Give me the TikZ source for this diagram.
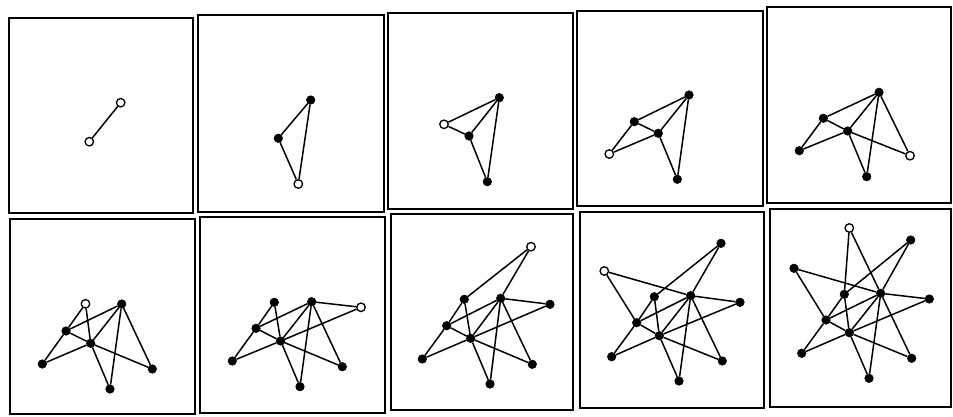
\documentclass[tikz,border=0pt]{standalone}
\usetikzlibrary{backgrounds}
\tikzset{
  dot/.style={circle,fill=black,draw=black,line width=0.6pt,minimum size=8.5pt,inner sep=0pt},
  hollow/.style={circle,fill=white,draw=black,line width=1.3pt,minimum size=8.5pt,inner sep=0pt},
  edge/.style={draw=black,line width=1.5pt},
  panelbox/.style={draw=black,line width=2pt}
}
\begin{document}
\begin{tikzpicture}[x=1pt,y=-1pt]
\useasboundingbox (0,0) rectangle (953,417);
% panel boxes
\draw[panelbox] (9,18) rectangle (193,213);
\draw[panelbox] (198,15) rectangle (384,212);
\draw[panelbox] (388,13) rectangle (573,209);
\draw[panelbox] (577,11) rectangle (763,206);
\draw[panelbox] (767,7) rectangle (951,203);
\draw[panelbox] (10,219) rectangle (195,414);
\draw[panelbox] (200,217) rectangle (385,413);
\draw[panelbox] (391,214) rectangle (573,410);
\draw[panelbox] (580,212) rectangle (764,408);
\draw[panelbox] (770,209) rectangle (951,407);

% panel 1
\node[hollow] (a1a) at (120.7,102.7) {};
\node[hollow] (a1b) at (89.3,141.7) {};
% panel 2
\node[dot] (a2A) at (310.7,100) {};
\node[dot] (a2B) at (278.3,138.3) {};
\node[hollow] (a2C) at (298.3,184) {};
% panel 3
\node[dot] (a3A) at (499.3,97.7) {};
\node[hollow] (a3O) at (444,124.3) {};
\node[dot] (a3B) at (469,136) {};
\node[dot] (a3C) at (487.3,181.7) {};
% panel 4
\node[dot] (a4A) at (689,95) {};
\node[dot] (a4D) at (634.3,121.7) {};
\node[dot] (a4B) at (658.3,133.3) {};
\node[dot] (a4C) at (677.3,179.3) {};
\node[hollow] (a4O) at (609.3,154) {};
% panel 5
\node[dot] (a5A) at (879,92.3) {};
\node[dot] (a5D) at (823.3,118.3) {};
\node[dot] (a5B) at (847.7,131) {};
\node[dot] (a5C) at (866.7,176.7) {};
\node[dot] (a5E) at (799.3,150.7) {};
\node[hollow] (a5O) at (910,155.7) {};
% panel 6
\node[hollow] (a6G) at (85.5,303.8) {};
\node[dot] (a6A) at (121.7,304) {};
\node[dot] (a6D) at (66,331) {};
\node[dot] (a6B) at (90.7,343.3) {};
\node[dot] (a6E) at (42.3,364) {};
\node[dot] (a6F) at (152.3,369) {};
\node[dot] (a6C) at (110,389) {};
% panel 7
\node[dot] (a7G) at (274.3,302.3) {};
\node[dot] (a7A) at (311.7,301.7) {};
\node[hollow] (a7R) at (361,307.3) {};
\node[dot] (a7D) at (256,328.3) {};
\node[dot] (a7B) at (280.7,341) {};
\node[dot] (a7E) at (232.3,361) {};
\node[dot] (a7F) at (342.3,366.7) {};
\node[dot] (a7C) at (300,386.7) {};
% panel 8
\node[hollow] (a8P) at (531,246.7) {};
\node[dot] (a8G) at (464.3,299.3) {};
\node[dot] (a8A) at (500.7,298.3) {};
\node[dot] (a8R) at (550,304.3) {};
\node[dot] (a8D) at (446.7,325.7) {};
\node[dot] (a8B) at (470.7,338.3) {};
\node[dot] (a8E) at (422.3,359) {};
\node[dot] (a8F) at (532.3,364.3) {};
\node[dot] (a8C) at (490,384) {};
% panel 9
\node[dot] (a9P) at (721,243.3) {};
\node[hollow] (a9Q) at (604.3,271) {};
\node[dot] (a9G) at (654.3,296.7) {};
\node[dot] (a9A) at (690.7,295.7) {};
\node[dot] (a9R) at (740,302.3) {};
\node[dot] (a9D) at (636.7,322.7) {};
\node[dot] (a9B) at (659.3,335.7) {};
\node[dot] (a9E) at (611.7,356.7) {};
\node[dot] (a9F) at (722.3,361) {};
\node[dot] (a9C) at (679,381) {};
% panel 10
\node[hollow] (a10O) at (849.3,228) {};
\node[dot] (a10P) at (910.7,240) {};
\node[dot] (a10Q) at (794,268.3) {};
\node[dot] (a10G) at (844.3,294.3) {};
\node[dot] (a10A) at (880.7,293.3) {};
\node[dot] (a10R) at (929.3,299) {};
\node[dot] (a10D) at (826,320) {};
\node[dot] (a10B) at (849.3,332.7) {};
\node[dot] (a10E) at (801.7,353.3) {};
\node[dot] (a10F) at (911.7,358.3) {};
\node[dot] (a10C) at (869,378.3) {};

\begin{pgfonlayer}{background}
\draw[edge] (a1a) -- (a1b);
\foreach \u/\v in {A/B,A/C,B/C} \draw[edge] (a2\u) -- (a2\v);
\foreach \u/\v in {A/B,A/C,B/C,O/A,O/B} \draw[edge] (a3\u) -- (a3\v);
\foreach \u/\v in {A/B,A/C,B/C,D/A,D/B,O/D,O/B} \draw[edge] (a4\u) -- (a4\v);
\foreach \u/\v in {A/B,A/C,B/C,D/A,D/B,E/D,E/B,O/A,O/B} \draw[edge] (a5\u) -- (a5\v);
\foreach \u/\v in {A/B,A/C,B/C,D/A,D/B,E/D,E/B,F/A,F/B,G/D,G/B} \draw[edge] (a6\u) -- (a6\v);
\foreach \u/\v in {A/B,A/C,B/C,D/A,D/B,E/D,E/B,F/A,F/B,G/D,G/B,R/A,R/B} \draw[edge] (a7\u) -- (a7\v);
\foreach \u/\v in {A/B,A/C,B/C,D/A,D/B,E/D,E/B,F/A,F/B,G/D,G/B,R/A,R/B,P/G,P/A} \draw[edge] (a8\u) -- (a8\v);
\foreach \u/\v in {A/B,A/C,B/C,D/A,D/B,E/D,E/B,F/A,F/B,G/D,G/B,R/A,R/B,P/G,P/A,Q/A,Q/D} \draw[edge] (a9\u) -- (a9\v);
\foreach \u/\v in {A/B,A/C,B/C,D/A,D/B,E/D,E/B,F/A,F/B,G/D,G/B,R/A,R/B,P/G,P/A,Q/A,Q/D,O/G,O/A} \draw[edge] (a10\u) -- (a10\v);
\end{pgfonlayer}
\end{tikzpicture}
\end{document}
